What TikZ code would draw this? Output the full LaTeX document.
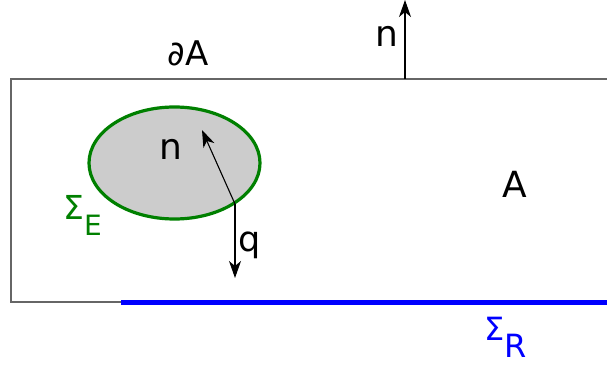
\documentclass[tikz,border=0pt]{standalone}
\usepackage{fontspec}
\setmainfont{DejaVu Sans}
\usetikzlibrary{positioning,arrows.meta,shapes.geometric}
\definecolor{incgreen}{RGB}{0,128,0}

\begin{document}
\begin{tikzpicture}[x=1pt, y=-1pt, font=\fontsize{36}{38}\selectfont,
  wall/.style={draw=black!60, line width=1.4pt},
  vec/.style={-{Stealth[length=17pt, width=12pt, inset=5pt]}, line width=1.1pt},
  lab/.style={anchor=base, inner sep=0pt}]
\useasboundingbox (0,0) rectangle (607,366);
\draw[wall] (607,79) -- (11,79) -- (11,302) -- (121,302);
\draw[blue, line width=5pt] (121,302) -- (607,302);
\node[ellipse, draw=incgreen, fill=black!20, line width=3.2pt, minimum width=171pt, minimum height=112pt] (incl) at (174.5,163) {};
\coordinate (src) at (235,204);
\coordinate (ntip) at (202,130);
\coordinate (qtip) at (235,278);
\coordinate (wall) at (405,79);
\coordinate (wtip) at (405,0);
\draw[vec] (src) -- (ntip);
\draw[vec] (src) -- (qtip);
\draw[vec] (wall) -- (wtip);
\node[lab, font=\fontsize{34}{36}\selectfont] (dA) at (188,66) {∂A};
\node[lab] (nw) at (387,47) {n};
\node[lab] (ni) at (171,160) {n};
\node[lab, font=\fontsize{35}{36}\selectfont] (q) at (250,251) {q};
\node[lab] (A) at (515,197) {A};
\node[lab, anchor=base west, text=incgreen, font=\fontsize{33}{34}\selectfont] (sE) at (63,219) {Σ\raisebox{-16pt}{\fontsize{28}{30}\selectfont E}};
\node[lab, anchor=base west, text=blue, font=\fontsize{32}{34}\selectfont] (sR) at (484,340) {Σ\raisebox{-17pt}{R}};
\end{tikzpicture}
\end{document}
